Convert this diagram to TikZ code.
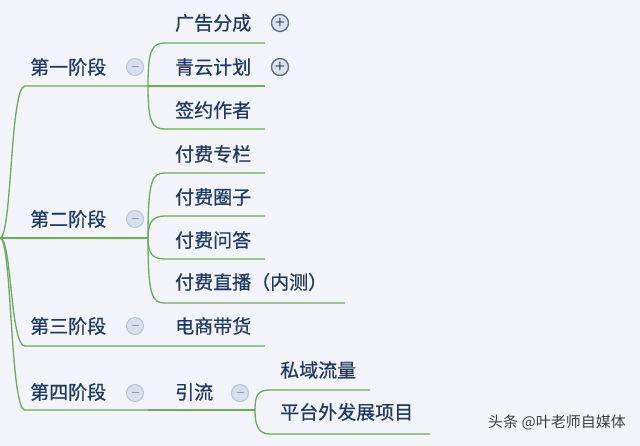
\documentclass[tikz,border=0pt]{standalone}
\usepackage{fontspec}
\newfontfamily\cjk[FakeBold=0.6]{Noto Sans CJK SC}
\newfontfamily\cjkw{Noto Sans CJK SC}
\begin{document}
\begin{tikzpicture}[x=1pt,y=-1pt,
  txt/.style={font=\cjk\fontsize{19}{21}\selectfont,text=tc,anchor=west,inner sep=0pt},
  ln/.style={draw=lc,line width=1.3pt},
  minus/.style={circle,draw=mc,fill=mf,line width=1pt,minimum size=17pt,inner sep=0pt},
  plus/.style={circle,draw=tc!75,fill=pf,line width=1.3pt,minimum size=17pt,inner sep=0pt}]
\definecolor{tc}{HTML}{1E3A62}
\definecolor{lc}{HTML}{6CAA5C}
\definecolor{bg}{HTML}{F2F4F9}
\definecolor{mc}{HTML}{B5C2DC}
\definecolor{mf}{HTML}{D8E0F0}
\definecolor{pf}{HTML}{DCE2EE}
\fill[bg] (0,0) rectangle (640,446);
\useasboundingbox (0,0) rectangle (640,446);
\coordinate (r) at (0,238);
\node[txt] (s1) at (30,67) {第一阶段};
\node[txt] (s2) at (30,219) {第二阶段};
\node[txt] (s3) at (30,326) {第三阶段};
\node[txt] (s4) at (30,392) {第四阶段};
\foreach \n/\y in {1/67,2/219,3/326,4/393}{\node[minus] (m\n) at (135,\y) {\textcolor{mc!80!black}{\rule[0.35ex]{7pt}{1.2pt}}};}
\node[minus] (m5) at (240,393) {\textcolor{mc!80!black}{\rule[0.35ex]{7pt}{1.2pt}}};
\coordinate (b1) at (148,86);
\coordinate (b2) at (148,238);
\coordinate (b4) at (148,410);
\node[txt] (c1) at (175,23) {广告分成};
\node[txt] (c2) at (175,67) {青云计划};
\node[txt] (c3) at (175,110) {签约作者};
\node[txt] (c4) at (175,154) {付费专栏};
\node[txt] (c5) at (175,197) {付费圈子};
\node[txt] (c6) at (175,240) {付费问答};
\node[txt] (c7) at (175,282) {付费直播（内测）};
\node[txt] (c8) at (175,326) {电商带货};
\node[txt] (c9) at (175,392) {引流};
\node[txt] (c10) at (280,370) {私域流量};
\node[txt] (c11) at (280,412) {平台外发展项目};
\node[plus] (p1) at (280,23) {\textcolor{tc}{\sffamily\bfseries\large +}};
\node[plus] (p2) at (280,67) {\textcolor{tc}{\sffamily\bfseries\large +}};
\draw[ln] (r) .. controls (12,238) and (10,86) .. (25,86) -- (b1);
\draw[ln] (r) -- (b2);
\draw[ln] (r) .. controls (12,238) and (10,346) .. (25,346) -- (265,346);
\draw[ln] (r) .. controls (12,238) and (10,410) .. (25,410) -- (b4);
\draw[ln] (b1) .. controls (148,50) and (152,43) .. (165,43) -- (265,43);
\draw[ln] (b1) -- (265,86);
\draw[ln] (b1) .. controls (148,122) and (152,129) .. (165,129) -- (265,129);
\draw[ln] (b2) .. controls (148,180) and (152,173) .. (165,173) -- (265,173);
\draw[ln] (b2) .. controls (148,223) and (152,216) .. (165,216) -- (265,216);
\draw[ln] (b2) .. controls (148,253) and (152,259) .. (165,259) -- (265,259);
\draw[ln] (b2) .. controls (148,296) and (152,303) .. (165,303) -- (345,303);
\draw[ln] (b4) -- (255,410);
\coordinate (b5) at (255,410);
\draw[ln] (b5) .. controls (255,395) and (258,390) .. (270,390) -- (370,390);
\draw[ln] (b5) .. controls (255,425) and (258,434) .. (270,434) -- (430,434);
\node[font=\cjkw\fontsize{15}{17}\selectfont,text=black!75,anchor=center] (wm) at (557,422) {头条 @叶老师自媒体};
\end{tikzpicture}
\end{document}
